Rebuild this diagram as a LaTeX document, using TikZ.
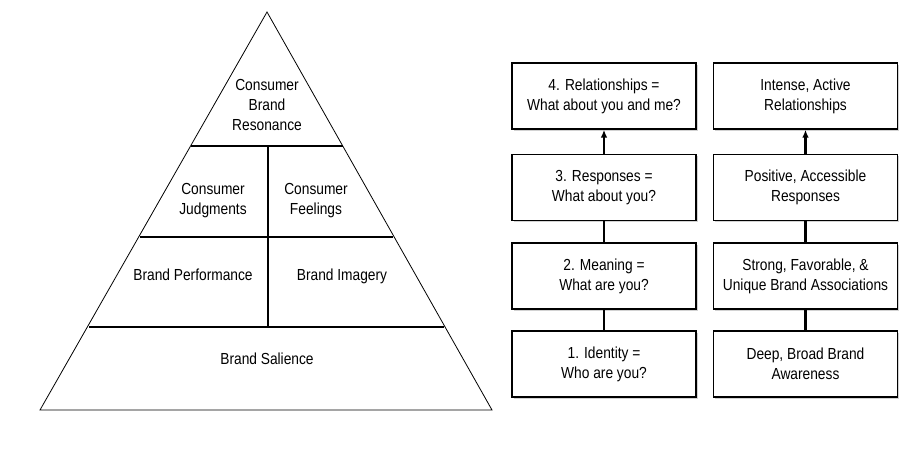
\documentclass[tikz,border=0pt]{standalone}
\usepackage{fontspec}
\setmainfont{Liberation Sans}[FakeStretch=0.86]
\usetikzlibrary{shadows,arrows.meta}

\tikzset{
  level/.style={font=\fontsize{12}{15}\selectfont, align=center, execute at begin node=\strut},
  stepbox/.style={draw, line width=1.1pt, fill=white, minimum width=138pt, minimum height=49.5pt,
    font=\fontsize{12}{15}\selectfont, align=center,
    drop shadow={shadow xshift=1.2pt, shadow yshift=-1.2pt, fill=gray!35, opacity=1}},
  link/.style={line width=1.6pt}
}

\begin{document}
\begin{tikzpicture}[x=0.75pt, y=-0.75pt]
  \useasboundingbox (0,0) rectangle (904,453);

  % pyramid outline and its blocks
  \coordinate (top) at (267,12);
  \coordinate (bl) at (40,410);
  \coordinate (br) at (492,410);
  \draw[line width=0.6pt] (top) -- (bl) -- (br) -- cycle;
  \draw[line width=1pt]
    (191,146) -- (343,146)
    (140,237) -- (393,237)
    (89,327) -- (444,327)
    (268,146) -- (268,327);

  \node[level] (res) at (267,108) {Consumer\\Brand\\Resonance};
  \node[level] (jud) at (213,202) {Consumer\\Judgments};
  \node[level] (fee) at (316,202) {Consumer\\Feelings};
  \node[level] (per) at (193,276) {Brand Performance};
  \node[level] (ima) at (342,276) {Brand Imagery};
  \node[level] (sal) at (267,360) {Brand Salience};

  % branding ladder
  \node[stepbox] (q4) at (604,96) {4. Relationships =\\What about you and me?};
  \node[stepbox] (q3) at (604,187.5) {3. Responses =\\What about you?};
  \node[stepbox] (q2) at (604,276) {2. Meaning =\\What are you?};
  \node[stepbox] (q1) at (604,364) {1. Identity =\\Who are you?};

  \node[stepbox] (o4) at (805.5,96) {Intense, Active\\Relationships};
  \node[stepbox] (o3) at (805.5,187.5) {Positive, Accessible\\Responses};
  \node[stepbox] (o2) at (805.5,276) {Strong, Favorable, \&\\Unique Brand Associations};
  \node[stepbox] (o1) at (805.5,364) {Deep, Broad Brand\\Awareness};

  \begin{scope}[link]
    \draw (q1) -- (q2);
    \draw (q2) -- (q3);
    \draw[-{Latex[length=6pt,width=5pt]}] (q3) -- (q4);
    \draw (o1) -- (o2);
    \draw (o2) -- (o3);
    \draw[-{Latex[length=6pt,width=5pt]}] (o3) -- (o4);
  \end{scope}
\end{tikzpicture}
\end{document}
